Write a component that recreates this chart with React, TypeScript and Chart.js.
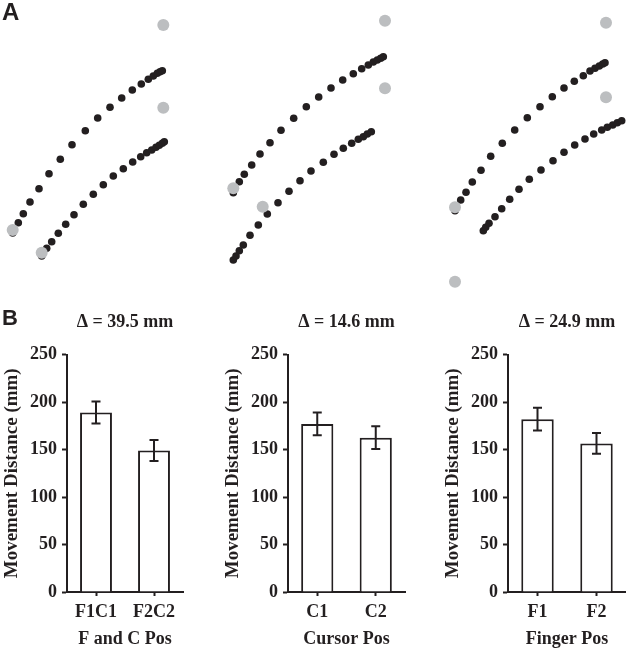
import React, { useEffect, useRef } from "react";
import { Chart, registerables } from "chart.js";

Chart.register(...registerables);

const INK = "#231f20";
const GREY = "#bcbec0";
const SERIF = "'Liberation Serif', 'Times New Roman', serif";

// ---------- Panel A: movement paths (workspace units, y upward) ----------
const a1Upper: number[][] = [[12.7, 67], [18.3, 77.3], [23.3, 86.3], [30, 98], [39, 111.3], [49, 126.3], [60.3, 140.7], [72, 155.3], [85.3, 169.3], [97.7, 182], [110, 192.7], [121.7, 202], [132.3, 210], [141.3, 216], [148.3, 220.7], [153.3, 224], [157.3, 226.7], [160, 228.3], [162.3, 229.3]];
const a1Lower: number[][] = [[41.7, 44], [46.7, 51.7], [51.7, 58.3], [58.3, 66.7], [65.7, 75.7], [74, 85.3], [83.3, 95.7], [93.3, 105.7], [103.3, 115.3], [113.3, 124], [123.3, 131.3], [132.7, 138], [140.7, 143.3], [146.7, 147.3], [151.7, 150], [156, 152.7], [159.3, 154.7], [162.3, 156.7], [164.3, 158.3]];
const a1Targets: number[][] = [[163.3, 275], [163.3, 192.3], [12.7, 70], [41.7, 47.3]];

const a2Upper: number[][] = [[23.3, 107.3], [29.3, 118.3], [34.3, 125.7], [41.7, 135], [50, 146], [60, 157.3], [71, 169.7], [83.7, 181.7], [96.3, 193.3], [108.7, 203], [121, 212], [132.7, 220], [143.3, 226.3], [151.7, 231.3], [158.3, 235], [163.3, 238], [167.3, 240], [170.7, 241.7], [173.3, 243.3]];
const a2Lower: number[][] = [[23.3, 40], [26, 44], [29.3, 49.3], [33.3, 55], [40, 64.7], [48.3, 75], [57.3, 86], [68, 97.3], [79, 108.7], [90, 119.3], [101, 129], [113.3, 137.7], [124, 145.7], [133.3, 151.7], [141.7, 156.7], [148.3, 160.7], [153.3, 163.3], [157.3, 166], [161.3, 168.3]];
const a2Targets: number[][] = [[175, 279.3], [175, 211.7], [23.3, 111.7], [52.7, 93.3]];

const a3Upper: number[][] = [[35, 89.3], [40.7, 100], [46, 107.7], [52.3, 118], [61, 129.7], [70.7, 143.7], [82.3, 156.7], [94.7, 170], [107.3, 182.3], [120, 193.3], [132.3, 203.3], [144, 212], [154.3, 218.7], [163.3, 224.3], [170, 229], [175, 231.7], [179.3, 234], [182.7, 236], [185, 237.3]];
const a3Lower: number[][] = [[63.3, 69.3], [65.7, 72.7], [69, 76.7], [75, 83.3], [81.7, 91.3], [89.7, 100.7], [99, 110.7], [109.3, 120.7], [121, 130], [133, 139.3], [144, 147.7], [154.7, 155], [165, 161], [173.7, 166], [181.7, 170], [187.3, 172.7], [192.7, 175], [197.3, 177.3], [201.7, 179.3]];
const a3Targets: number[][] = [[186, 277.3], [186, 202.7], [35, 92.7], [35, 18.3]];

// ---------- Panel B: movement distance ----------
const b1Labels = ["F1C1", "F2C2"];
const b1Means = [189, 149];
const b1Errors = [11.5, 11];
const b1Title = "Δ = 39.5 mm";
const b1XTitle = "F and C Pos";

const b2Labels = ["C1", "C2"];
const b2Means = [177, 162.5];
const b2Errors = [12, 12];
const b2Title = "Δ = 14.6 mm";
const b2XTitle = "Cursor Pos";

const b3Labels = ["F1", "F2"];
const b3Means = [182, 156.5];
const b3Errors = [12, 11];
const b3Title = "Δ = 24.9 mm";
const b3XTitle = "Finger Pos";

const yTitle = "Movement Distance (mm)";
const yMin = 0;
const yMax = 250;
const yStep = 50;

const toXY = (arr: number[][]) => arr.map(([x, y]) => ({ x, y }));

function PathChart(props: { upper: number[][]; lower: number[][]; targets: number[][]; width: number; height: number; left: number; top: number }) {
  const ref = useRef<HTMLCanvasElement>(null);
  useEffect(() => {
    if (!ref.current) return;
    const chart = new Chart(ref.current, {
      type: "scatter",
      data: {
        datasets: [
          { data: toXY(props.targets), pointRadius: 6, backgroundColor: GREY, borderWidth: 0, order: 0, clip: false } as any,
          { data: toXY(props.upper), pointRadius: 3.8, backgroundColor: INK, borderWidth: 0, order: 1, clip: false } as any,
          { data: toXY(props.lower), pointRadius: 3.8, backgroundColor: INK, borderWidth: 0, order: 1, clip: false } as any,
        ],
      },
      options: {
        animation: false,
        responsive: false,
        events: [],
        layout: { padding: 0, autoPadding: false },
        plugins: { legend: { display: false }, tooltip: { enabled: false } },
        scales: {
          x: { display: false, type: "linear", min: 0, max: props.width },
          y: { display: false, type: "linear", min: 0, max: props.height },
        },
      },
    });
    return () => chart.destroy();
  }, []);
  return (
    <canvas
      ref={ref}
      width={props.width}
      height={props.height}
      style={{ position: "absolute", left: props.left, top: props.top, width: props.width, height: props.height }}
    />
  );
}

function makeErrorBars(errors: number[]) {
  return {
    id: "errorBars",
    afterDatasetsDraw(chart: any) {
      const meta = chart.getDatasetMeta(0);
      const yScale = chart.scales.y;
      const values = chart.data.datasets[0].data as number[];
      const ctx = chart.ctx;
      ctx.save();
      ctx.strokeStyle = INK;
      ctx.lineWidth = 2;
      meta.data.forEach((bar: any, i: number) => {
        const v = values[i];
        const top = yScale.getPixelForValue(v + errors[i]);
        const bot = yScale.getPixelForValue(v - errors[i]);
        const x = bar.x;
        ctx.beginPath();
        ctx.moveTo(x, top);
        ctx.lineTo(x, bot);
        ctx.moveTo(x - 4.5, top);
        ctx.lineTo(x + 4.5, top);
        ctx.moveTo(x - 4.5, bot);
        ctx.lineTo(x + 4.5, bot);
        ctx.stroke();
      });
      ctx.restore();
    },
  };
}

function BarPanel(props: { labels: string[]; means: number[]; errors: number[]; title: string; xTitle: string; left: number; width: number; padRight: number }) {
  const ref = useRef<HTMLCanvasElement>(null);
  useEffect(() => {
    if (!ref.current) return;
    const font = { family: SERIF, size: 18, weight: "bold" as const };
    const yTitleFont = { family: SERIF, size: 19, weight: "bold" as const };
    const chart = new Chart(ref.current, {
      type: "bar",
      data: {
        labels: props.labels,
        datasets: [
          {
            data: props.means,
            backgroundColor: "#ffffff",
            borderColor: INK,
            borderWidth: 2,
            barPercentage: 0.55,
            categoryPercentage: 1,
          },
        ],
      },
      options: {
        animation: false,
        responsive: false,
        events: [],
        layout: { padding: { left: 0, right: props.padRight, top: 0, bottom: 0 } },
        plugins: {
          legend: { display: false },
          tooltip: { enabled: false },
          title: {
            display: true,
            text: props.title,
            fullSize: false,
            color: INK,
            font,
            padding: { top: 12, bottom: 21 },
          },
        },
        scales: {
          x: {
            grid: { display: true, drawOnChartArea: false, drawTicks: true, tickLength: 4, tickWidth: 2, tickColor: INK, offset: false },
            border: { display: true, color: INK, width: 2 },
            ticks: { color: INK, font, padding: 6, maxRotation: 0 },
            title: { display: true, text: props.xTitle, color: INK, font, padding: { top: 0, bottom: 0 } },
            afterFit: (s: any) => {
              s.height = 58;
            },
          },
          y: {
            min: yMin,
            max: yMax,
            ticks: { stepSize: yStep, color: INK, font, padding: 5 },
            grid: { display: true, drawOnChartArea: false, drawTicks: true, tickLength: 5, tickWidth: 2, tickColor: INK },
            border: { display: true, color: INK, width: 2 },
            title: { display: true, text: yTitle, color: INK, font: yTitleFont, padding: { top: 1, bottom: 0 } },
            afterFit: (s: any) => {
              s.width = 67;
            },
          },
        },
      },
      plugins: [makeErrorBars(props.errors)],
    });
    return () => chart.destroy();
  }, []);
  return (
    <canvas
      ref={ref}
      width={props.width}
      height={350}
      style={{ position: "absolute", left: props.left, top: 300, width: props.width, height: 350 }}
    />
  );
}

const letterStyle: React.CSSProperties = {
  position: "absolute",
  fontFamily: "'Liberation Sans', Arial, sans-serif",
  fontWeight: "bold",
  lineHeight: 1,
  color: INK,
};

export default function App() {
  return (
    <div style={{ position: "absolute", left: 0, top: 0, width: 626, height: 650, background: "#ffffff", overflow: "hidden" }}>
      <PathChart upper={a1Upper} lower={a1Lower} targets={a1Targets} left={0} top={0} width={210} height={300} />
      <PathChart upper={a2Upper} lower={a2Lower} targets={a2Targets} left={210} top={0} width={210} height={300} />
      <PathChart upper={a3Upper} lower={a3Lower} targets={a3Targets} left={420} top={0} width={206} height={300} />
      <BarPanel labels={b1Labels} means={b1Means} errors={b1Errors} title={b1Title} xTitle={b1XTitle} left={0} width={190} padRight={7} />
      <BarPanel labels={b2Labels} means={b2Means} errors={b2Errors} title={b2Title} xTitle={b2XTitle} left={221} width={189} padRight={5} />
      <BarPanel labels={b3Labels} means={b3Means} errors={b3Errors} title={b3Title} xTitle={b3XTitle} left={441} width={185} padRight={0} />
      <div style={{ ...letterStyle, fontSize: 24, left: 2, top: 0 }}>A</div>
      <div style={{ ...letterStyle, fontSize: 22, left: 2, top: 307 }}>B</div>
    </div>
  );
}
